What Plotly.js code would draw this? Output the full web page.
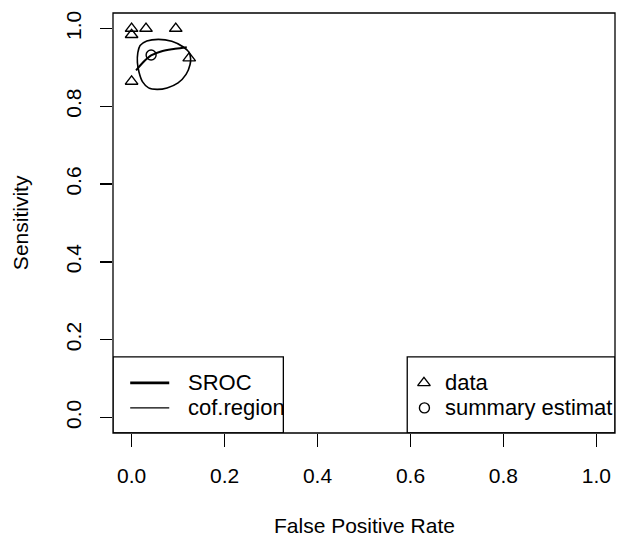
<!DOCTYPE html>
<html>
<head>
<meta charset="utf-8">
<script src="https://cdn.plot.ly/plotly-3.0.1.min.js"></script>
<style>html,body{margin:0;padding:0;background:#fff;}#chart{width:617px;height:539px;}</style>
</head>
<body>
<div id="chart"></div>
<script>
// Study data (FPR, Sensitivity)
var dataFPR  = [0.000, 0.000, 0.031, 0.095, 0.124, 0.000];
var dataSens = [1.000, 0.984, 1.000, 1.000, 0.924, 0.864];

// Summary estimate
var sumFPR  = [0.042];
var sumSens = [0.932];

// SROC curve
var srocFPR  = [0.0097, 0.0219, 0.0419, 0.0649, 0.0935, 0.1187];
var srocSens = [0.8923, 0.9095, 0.9308, 0.9418, 0.9479, 0.9521];

// Confidence region
var regFPR  = [0.0183, 0.0327, 0.0576, 0.0865, 0.1114, 0.1237, 0.1269, 0.1258, 0.1172, 0.1000, 0.0763, 0.0548, 0.0366, 0.0237, 0.0161, 0.0125, 0.0133, 0.0183];
var regSens = [0.9564, 0.9679, 0.9723, 0.9672, 0.9526, 0.9385, 0.9231, 0.9077, 0.8821, 0.8603, 0.8474, 0.8436, 0.8474, 0.8628, 0.8872, 0.9128, 0.9367, 0.9564];

var tickVals = [0, 0.2, 0.4, 0.6, 0.8, 1.0];
var tickText = ["0.0", "0.2", "0.4", "0.6", "0.8", "1.0"];

var leftLegendLabels  = ["SROC", "cof.region"];
var rightLegendLabels = ["data", "summary estimat"];

var FONT = '"Liberation Sans", Arial, Helvetica, sans-serif';

var traces = [
  {x: regFPR, y: regSens, mode: 'lines', line: {color: 'black', width: 1.6, shape: 'spline', smoothing: 1}, hoverinfo: 'skip', name: 'cof.region'},
  {x: srocFPR, y: srocSens, mode: 'lines', line: {color: 'black', width: 2, shape: 'spline'}, hoverinfo: 'skip', name: 'SROC'},
  {x: dataFPR, y: dataSens, mode: 'markers', marker: {symbol: 'triangle-up-open', size: 11, color: 'black', line: {width: 1.4, color: 'black'}}, name: 'data'},
  {x: sumFPR, y: sumSens, mode: 'markers', marker: {symbol: 'circle-open', size: 10, color: 'black', line: {width: 1.4, color: 'black'}}, name: 'summary estimate'}
];

var legY = [0.0888, 0.0246];
var shapes = [
  {type: 'rect', xref: 'paper', yref: 'paper', x0: 0, x1: 1, y0: 0, y1: 1, line: {color: 'black', width: 1.3}},
  {type: 'rect', xref: 'x', yref: 'y', x0: -0.04, x1: 0.3265, y0: -0.04, y1: 0.1556, line: {color: 'black', width: 1.3}},
  {type: 'rect', xref: 'x', yref: 'y', x0: 0.593, x1: 1.04, y0: -0.04, y1: 0.1556, line: {color: 'black', width: 1.3}},
  {type: 'line', xref: 'x', yref: 'y', x0: -0.003, x1: 0.081, y0: legY[0], y1: legY[0], line: {color: 'black', width: 2.8}},
  {type: 'line', xref: 'x', yref: 'y', x0: -0.003, x1: 0.081, y0: legY[1], y1: legY[1], line: {color: 'black', width: 1.3}}
];

var legFont = {family: FONT, size: 22, color: 'black'};
var axFont = {family: FONT, size: 21, color: 'black'};
var annotations = [
  {xref: 'x', yref: 'y', x: 0.116, y: legY[0], text: leftLegendLabels[0], showarrow: false, xanchor: 'left', yanchor: 'middle', font: legFont},
  {xref: 'x', yref: 'y', x: 0.116, y: legY[1], text: leftLegendLabels[1], showarrow: false, xanchor: 'left', yanchor: 'middle', font: legFont},
  {xref: 'x', yref: 'y', x: 0.671, y: legY[0], text: rightLegendLabels[0], showarrow: false, xanchor: 'left', yanchor: 'middle', font: legFont},
  {xref: 'x', yref: 'y', x: 0.671, y: legY[1], text: rightLegendLabels[1], showarrow: false, xanchor: 'left', yanchor: 'middle', font: legFont},
  {xref: 'paper', yref: 'paper', x: 0.5, y: -0.221, text: 'False Positive Rate', showarrow: false, xanchor: 'center', yanchor: 'middle', font: axFont},
  {xref: 'paper', yref: 'paper', x: -0.185, y: 0.5, text: 'Sensitivity', textangle: -90, showarrow: false, xanchor: 'center', yanchor: 'middle', font: axFont}
];

// legend symbols drawn as marker traces
traces.push({x: [0.629], y: [legY[0]], mode: 'markers', marker: {symbol: 'triangle-up-open', size: 11, color: 'black', line: {width: 1.4, color: 'black'}}, hoverinfo: 'skip', showlegend: false});
traces.push({x: [0.630], y: [legY[1]], mode: 'markers', marker: {symbol: 'circle-open', size: 10, color: 'black', line: {width: 1.4, color: 'black'}}, hoverinfo: 'skip', showlegend: false});

var layout = {
  width: 617, height: 539,
  margin: {l: 113, r: 2, t: 12.5, b: 105.5, pad: 0},
  paper_bgcolor: 'white', plot_bgcolor: 'white',
  showlegend: false,
  font: axFont,
  xaxis: {
    range: [-0.04, 1.04], showgrid: false, zeroline: false, showline: false,
    tickmode: 'array', tickvals: tickVals, ticktext: tickText,
    ticks: 'outside', ticklen: 13, tickwidth: 1.3, tickcolor: 'black',
    tickfont: axFont,
    ticklabelstandoff: 11
  },
  yaxis: {
    range: [-0.04, 1.04], showgrid: false, zeroline: false, showline: false,
    tickmode: 'array', tickvals: tickVals, ticktext: tickText,
    ticks: 'outside', ticklen: 12, tickwidth: 1.3, tickcolor: 'black',
    tickangle: -90,
    tickfont: axFont,
    ticklabelstandoff: 11
  },
  shapes: shapes,
  annotations: annotations
};

Plotly.newPlot('chart', traces, layout, {staticPlot: true, displayModeBar: false});
</script>
</body>
</html>
